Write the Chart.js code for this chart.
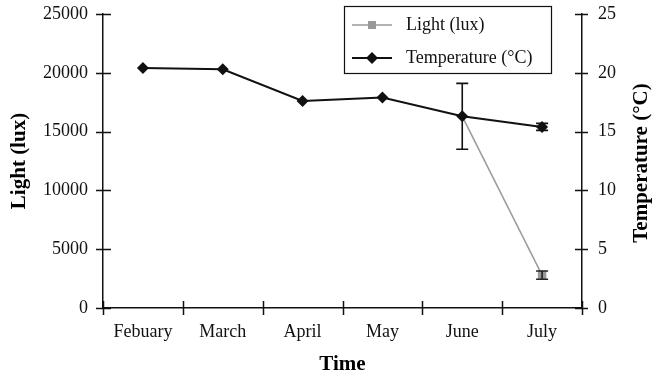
<!DOCTYPE html>
<html>
<head>
<meta charset="utf-8">
<script src="https://cdn.jsdelivr.net/npm/chart.js@4"></script>
<style>
  html, body { margin: 0; padding: 0; background: #fff; }
  #wrap { width: 658px; height: 377px; position: relative; }
</style>
</head>
<body>
<div id="wrap"><canvas id="chart"></canvas></div>
<script>
// data
const months = ['Febuary', 'March', 'April', 'May', 'June', 'July'];
const lightLux = [null, null, null, null, 16300, 2800];
const lightErr = [null, null, null, null, null, 350];
const tempC = [20.4, 20.3, 17.6, 17.9, 16.3, 15.4];
const tempErr = [null, null, null, null, 2.8, 0.3];
const lightTicks = [0, 5000, 10000, 15000, 20000, 25000];
const tempTicks = [0, 5, 10, 15, 20, 25];

const serif = "'Liberation Serif', 'DejaVu Serif', serif";

// error bars, crossing tick marks, legend and right title
const extras = {
    id: 'extras',
    afterDatasetsDraw(chart) {
        const ctx = chart.ctx;
        const x = chart.scales.x;
        const yl = chart.scales.yLight;
        const yr = chart.scales.yTemp;
        ctx.save();
        ctx.lineWidth = 1.6;

        const bar = (xp, lo, hi, cap, color) => {
            ctx.strokeStyle = color;
            ctx.beginPath();
            ctx.moveTo(xp, lo); ctx.lineTo(xp, hi);
            ctx.moveTo(xp - cap, lo); ctx.lineTo(xp + cap, lo);
            ctx.moveTo(xp - cap, hi); ctx.lineTo(xp + cap, hi);
            ctx.stroke();
        };
        tempC.forEach((v, i) => {
            if (tempErr[i] == null) return;
            const xp = x.getPixelForValue(i);
            bar(xp, yr.getPixelForValue(v - tempErr[i]), yr.getPixelForValue(v + tempErr[i]), 6, '#111');
        });
        lightLux.forEach((v, i) => {
            if (lightErr[i] == null || v == null) return;
            const xp = x.getPixelForValue(i);
            bar(xp, yl.getPixelForValue(v - lightErr[i]), yl.getPixelForValue(v + lightErr[i]), 6, '#222');
        });
        ctx.restore();
    },
    afterDraw(chart) {
        const ctx = chart.ctx;
        const a = chart.chartArea;
        const x = chart.scales.x;
        const yl = chart.scales.yLight;
        const yr = chart.scales.yTemp;
        ctx.save();
        ctx.strokeStyle = '#111';
        ctx.lineWidth = 1.5;
        ctx.beginPath();
        lightTicks.forEach(t => {
            const yp = Math.round(yl.getPixelForValue(t)) + 0.5;
            ctx.moveTo(a.left - 7, yp); ctx.lineTo(a.left + 8, yp);
        });
        tempTicks.forEach(t => {
            const yp = Math.round(yr.getPixelForValue(t)) + 0.5;
            ctx.moveTo(a.right - 7, yp); ctx.lineTo(a.right + 6, yp);
        });
        for (let i = 0; i <= months.length; i++) {
            const xp = Math.round(x.getPixelForValue(i - 0.5)) + 0.5;
            ctx.moveTo(xp, a.bottom - 7); ctx.lineTo(xp, a.bottom + 7);
        }
        ctx.stroke();

        // right axis title, reading bottom to top
        ctx.save();
        ctx.translate(642, (a.top + a.bottom) / 2 + 2);
        ctx.rotate(-Math.PI / 2);
        ctx.fillStyle = '#000';
        ctx.font = 'bold 21px ' + serif;
        ctx.textAlign = 'center';
        ctx.textBaseline = 'middle';
        ctx.fillText('Temperature (°C)', 0, 0);
        ctx.restore();

        // legend box
        const bx = 344, by = 6, bw = 207, bh = 67;
        ctx.fillStyle = '#fff';
        ctx.fillRect(bx, by, bw, bh);
        ctx.lineWidth = 1.2;
        ctx.strokeStyle = '#111';
        ctx.strokeRect(bx + 0.5, by + 0.5, bw, bh);

        const rows = [
            { label: 'Light (lux)', y: 25, color: '#999', width: 1.5, marker: 'rect' },
            { label: 'Temperature (°C)', y: 58, color: '#111', width: 2, marker: 'diamond' }
        ];
        rows.forEach(r => {
            ctx.strokeStyle = r.color;
            ctx.lineWidth = r.width;
            ctx.beginPath();
            ctx.moveTo(352, r.y); ctx.lineTo(392, r.y);
            ctx.stroke();
            ctx.fillStyle = r.color;
            if (r.marker === 'rect') {
                ctx.fillRect(368, r.y - 4, 8, 8);
            } else {
                ctx.beginPath();
                ctx.moveTo(372, r.y - 6); ctx.lineTo(378, r.y);
                ctx.lineTo(372, r.y + 6); ctx.lineTo(366, r.y);
                ctx.closePath();
                ctx.fill();
            }
            ctx.fillStyle = '#111';
            ctx.font = '18px ' + serif;
            ctx.textBaseline = 'middle';
            ctx.textAlign = 'left';
            ctx.fillText(r.label, 406, r.y);
        });
        ctx.restore();
    }
};

const tickFont = { family: serif, size: 18 };
const titleFont = { family: serif, size: 21, weight: 'bold' };

// let the layout padding alone decide where the plot starts
const fitY = w => s => { s.width = w; s.paddingTop = 0; s.paddingBottom = 0; };

new Chart(document.getElementById('chart'), {
    type: 'line',
    data: {
        labels: months,
        datasets: [
            {
                label: 'Temperature (°C)',
                data: tempC,
                yAxisID: 'yTemp',
                borderColor: '#111',
                backgroundColor: '#111',
                borderWidth: 2,
                pointStyle: 'rectRot',
                pointRadius: 6,
                pointBorderWidth: 0,
                order: 0
            },
            {
                label: 'Light (lux)',
                data: lightLux,
                yAxisID: 'yLight',
                borderColor: '#999',
                backgroundColor: '#999',
                borderWidth: 1.5,
                pointStyle: 'rect',
                pointRadius: [0, 0, 0, 0, 0, 6],
                pointBorderWidth: 0,
                order: 1
            }
        ]
    },
    options: {
        responsive: true,
        maintainAspectRatio: false,
        animation: false,
        layout: { padding: { top: 14, left: 0, right: 0, bottom: 0 } },
        plugins: {
            legend: { display: false },
            tooltip: { enabled: false }
        },
        scales: {
            x: {
                offset: true,
                grid: { display: false, drawTicks: false },
                border: { display: true, color: '#111', width: 1.5 },
                ticks: { color: '#111', font: tickFont, padding: 13 },
                title: {
                    display: true, text: 'Time', color: '#000',
                    font: titleFont,
                    padding: { top: 0, bottom: 0 }
                },
                afterFit: s => { s.height = 69; }
            },
            yLight: {
                position: 'left',
                min: 0, max: 25000,
                afterBuildTicks: s => { s.ticks = lightTicks.map(v => ({ value: v })); },
                grid: { display: false, drawTicks: false },
                border: { display: true, color: '#111', width: 1.5 },
                ticks: { color: '#111', font: tickFont, padding: 15, callback: v => String(v) },
                title: {
                    display: true, text: 'Light (lux)', color: '#000',
                    font: titleFont,
                    padding: { top: 7, bottom: 0 }
                },
                afterFit: fitY(103)
            },
            yTemp: {
                position: 'right',
                min: 0, max: 25,
                afterBuildTicks: s => { s.ticks = tempTicks.map(v => ({ value: v })); },
                grid: { display: false, drawTicks: false },
                border: { display: true, color: '#111', width: 1.5 },
                ticks: { color: '#111', font: tickFont, padding: 16, callback: v => String(v) },
                afterFit: fitY(76)
            }
        }
    },
    plugins: [extras]
});
</script>
</body>
</html>
